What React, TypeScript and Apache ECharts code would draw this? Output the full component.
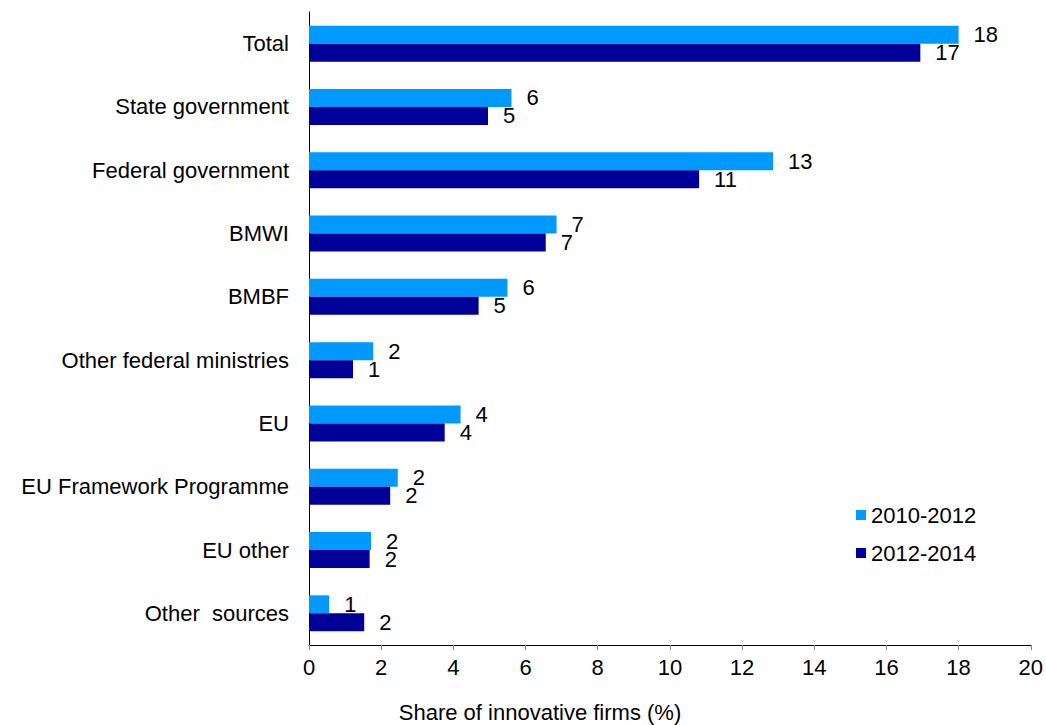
import React, { useEffect, useRef } from "react";
import * as echarts from "echarts";

const categories = [
  "Total",
  "State government",
  "Federal government",
  "BMWI",
  "BMBF",
  "Other federal ministries",
  "EU",
  "EU Framework Programme",
  "EU other",
  "Other  sources",
];
const series2010_2012 = [18.0, 5.61, 12.86, 6.86, 5.5, 1.78, 4.2, 2.46, 1.72, 0.56];
const series2012_2014 = [16.94, 4.96, 10.81, 6.56, 4.7, 1.22, 3.76, 2.25, 1.68, 1.53];
const seriesNames = ["2010-2012", "2012-2014"];
const xTicks = { min: 0, max: 20, interval: 2 };
const xAxisTitle = "Share of innovative firms (%)";

const FONT = "Liberation Sans, Arial, sans-serif";

export default function App() {
  const ref = useRef<HTMLDivElement>(null);
  useEffect(() => {
    if (!ref.current) return;
    const chart = echarts.init(ref.current, undefined, { renderer: "svg" });
    const label = {
      show: true,
      position: "right",
      distance: 15,
      color: "#000",
      fontSize: 22,
      fontFamily: FONT,
      formatter: (p: any) => String(Math.round(p.value)),
    };
    chart.setOption({
      animation: false,
      backgroundColor: "#fff",
      textStyle: { fontFamily: FONT },
      grid: { left: 309, right: 15, top: 12, bottom: 80, containLabel: false },
      legend: {
        orient: "vertical",
        left: 851,
        top: 499,
        itemWidth: 10,
        itemHeight: 10,
        itemGap: 16,
        icon: "rect",
        textStyle: { fontSize: 22, color: "#000", fontFamily: FONT },
        data: seriesNames,
      },
      xAxis: {
        type: "value",
        min: xTicks.min,
        max: xTicks.max,
        interval: xTicks.interval,
        axisLine: { show: true, lineStyle: { color: "#000", width: 1 } },
        axisTick: { show: true, length: 5, lineStyle: { color: "#888" } },
        splitLine: { show: false },
        axisLabel: { fontSize: 22, color: "#000", margin: 11, fontFamily: FONT },
      },
      yAxis: {
        type: "category",
        inverse: true,
        data: categories,
        axisLine: { show: true, lineStyle: { color: "#000", width: 1 } },
        axisTick: { show: false },
        axisLabel: { fontSize: 22, color: "#000", margin: 20, fontFamily: FONT },
      },
      graphic: [
        {
          type: "text",
          x: 540,
          y: 712,
          style: {
            text: xAxisTitle,
            fontSize: 22,
            fill: "#000",
            fontFamily: FONT,
            align: "center",
            verticalAlign: "middle",
          },
        },
      ],
      series: [
        {
          name: seriesNames[0],
          type: "bar",
          data: series2010_2012,
          barWidth: 18,
          barGap: "0%",
          itemStyle: { color: "#0099FF" },
          label,
        },
        {
          name: seriesNames[1],
          type: "bar",
          data: series2012_2014,
          barWidth: 18,
          barGap: "0%",
          itemStyle: { color: "#000099" },
          label,
        },
      ],
    });
    return () => chart.dispose();
  }, []);
  return (
    <div
      ref={ref}
      style={{ position: "fixed", left: 0, top: 0, width: 1046, height: 725 }}
    />
  );
}
